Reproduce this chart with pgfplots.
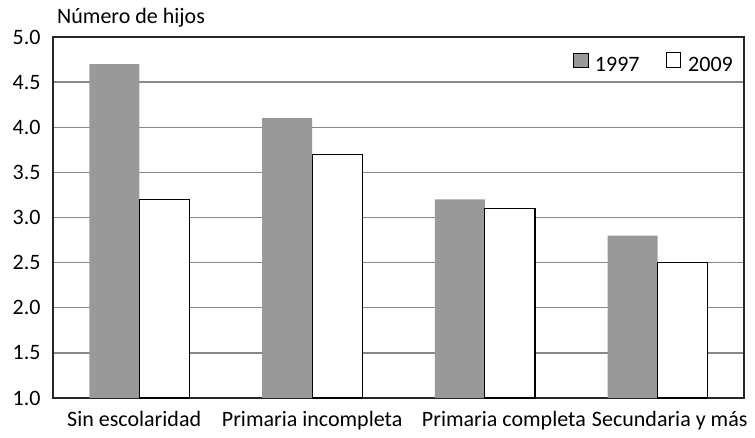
\documentclass[border=0pt]{standalone}
\usepackage{pgfplots}
\pgfplotsset{compat=1.18}
\usepackage{fontspec}
\setmainfont{Carlito}
\definecolor{barg}{RGB}{153,153,153}
\definecolor{gridg}{RGB}{136,136,136}
\begin{document}
\fontsize{22pt}{25pt}\selectfont
\begin{tikzpicture}
\begin{axis}[
  name=ax,
  scale only axis,
  width=691pt, height=361pt,
  xmin=-0.5, xmax=3.5,
  ymin=1, ymax=5,
  ytick={1,1.5,...,5},
  /pgf/number format/fixed,
  /pgf/number format/fixed zerofill,
  /pgf/number format/precision=1,
  /pgf/number format/assume math mode=true,
  xtick={-0.03,1,2.11,3.07},
  xticklabels={Sin escolaridad,Primaria incompleta,Primaria completa,Secundaria y más},
  major tick length=0pt,
  ymajorgrids,
  grid style={gridg, line width=1.3pt},
  axis line style={black!85, line width=1.1pt},
  ybar, bar width=0.29,
  xticklabel style={yshift=-6pt},
  yticklabel style={xshift=-5pt},
  legend style={at={(1,1)}, anchor=north east, xshift=-11pt, yshift=-15pt,
    draw=none, fill=none, inner sep=0pt, legend columns=2,
    nodes={inner xsep=0pt, inner ysep=1pt},
    /tikz/every odd column/.append style={column sep=7pt},
    /tikz/every even column/.append style={column sep=26pt}},
  legend image code/.code={\draw[#1] (0pt,-1pt) rectangle (14.5pt,13.5pt);},
  clip=false,
]
\addplot[fill=barg, draw=none, bar shift=-0.145] coordinates {(0,4.7) (1,4.1) (2,3.2) (3,2.8)};
\addplot[fill=white, draw=black, line width=1.1pt, bar shift=0.145] coordinates {(0,3.2) (1,3.7) (2,3.1) (3,2.5)};
\legend{1997,2009}
\node[anchor=base west, inner sep=0pt] at (rel axis cs:0,1) [xshift=4pt, yshift=13pt] {Número de hijos};
\end{axis}
\path ([xshift=-53pt,yshift=-34pt]ax.south west) rectangle ([xshift=11pt,yshift=37pt]ax.north east);
\end{tikzpicture}
\end{document}
